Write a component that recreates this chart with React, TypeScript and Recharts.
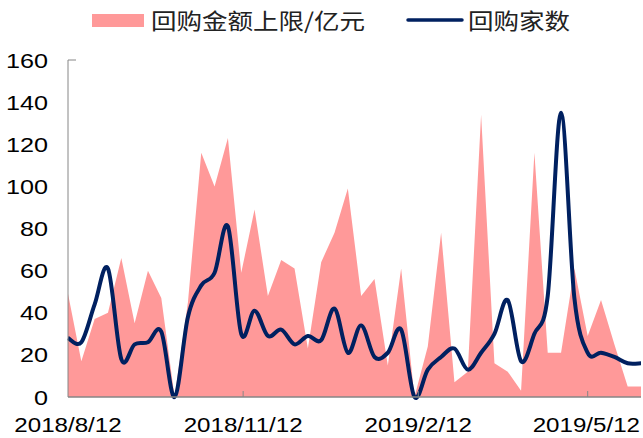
import { ComposedChart, Area, Line, XAxis, YAxis, Legend } from "recharts";

const dates = [
  "2018/8/12", "2018/8/19", "2018/8/26", "2018/9/2", "2018/9/9", "2018/9/16",
  "2018/9/23", "2018/9/30", "2018/10/7", "2018/10/14", "2018/10/21", "2018/10/28",
  "2018/11/4", "2018/11/11", "2018/11/18", "2018/11/25", "2018/12/2", "2018/12/9",
  "2018/12/16", "2018/12/23", "2018/12/30", "2019/1/6", "2019/1/13", "2019/1/20",
  "2019/1/27", "2019/2/3", "2019/2/10", "2019/2/17", "2019/2/24", "2019/3/3",
  "2019/3/10", "2019/3/17", "2019/3/24", "2019/3/31", "2019/4/7", "2019/4/14",
  "2019/4/21", "2019/4/28", "2019/5/5", "2019/5/12", "2019/5/19", "2019/5/26",
  "2019/6/2", "2019/6/9",
];

// 回购金额上限/亿元
const amountCap = [
  49, 17, 37, 40, 66, 35, 60, 47, 0, 45, 116, 100, 123, 59, 89, 48, 65, 61, 23, 64,
  78, 99, 48, 56, 15, 61, 0, 24, 78, 7, 12, 134, 16, 12, 3, 116, 21, 21, 61, 29,
  46, 25, 5, 5,
];

// 回购家数
const companyCount = [
  28, 26, 44, 61, 18, 25, 26, 31, 0, 38, 53, 59, 81, 30, 41, 29, 32, 25, 29, 27,
  42, 21, 34, 19, 21, 32, 0, 13, 19, 23, 13, 21, 30, 46, 17, 30, 48, 135, 47, 21,
  21, 19, 16, 16,
];

const xTickLabels = ["2018/8/12", "2018/11/12", "2019/2/12", "2019/5/12"];
const yTicks = [0, 20, 40, 60, 80, 100, 120, 140, 160];

const PINK = "#FF9999";
const NAVY = "#002060";
const AXIS = "#868686";
const FONT = "'Liberation Sans', Arial, 'Noto Sans CJK SC', sans-serif";
const CJK_FONT = "'Noto Sans CJK SC', 'Liberation Sans', sans-serif";

const toDay = (s: string) => {
  const [y, m, d] = s.split("/").map(Number);
  return Date.UTC(y, m - 1, d) / 86400000;
};

const data = dates.map((d, i) => ({
  day: toDay(d),
  amount: amountCap[i],
  count: companyCount[i],
}));

const xTicks = xTickLabels.map(toDay);

// Excel-like smoothed line (Catmull-Rom through the points)
function excelSmooth(context: any) {
  let pts: number[][] = [];
  return {
    areaStart() {},
    areaEnd() {},
    lineStart() {
      pts = [];
    },
    point(x: number, y: number) {
      pts.push([+x, +y]);
    },
    lineEnd() {
      const n = pts.length;
      if (!n) return;
      context.moveTo(pts[0][0], pts[0][1]);
      for (let i = 0; i < n - 1; i++) {
        const p0 = pts[Math.max(i - 1, 0)];
        const p1 = pts[i];
        const p2 = pts[i + 1];
        const p3 = pts[Math.min(i + 2, n - 1)];
        context.bezierCurveTo(
          p1[0] + (p2[0] - p0[0]) / 6,
          p1[1] + (p2[1] - p0[1]) / 6,
          p2[0] - (p3[0] - p1[0]) / 6,
          p2[1] - (p3[1] - p1[1]) / 6,
          p2[0],
          p2[1]
        );
      }
    },
  };
}

function XTick({ x, y, index }: any) {
  const last = index === xTickLabels.length - 1;
  const tx = last ? 640 : x;
  return (
    <g>
      {index > 0 && <line x1={x} x2={x} y1={y} y2={y - 6} stroke={AXIS} strokeWidth={1} />}
      <text
        transform={`translate(${tx},${y + 35}) scale(1.15,1)`}
        textAnchor={last ? "end" : "middle"}
        fontSize={21}
        fontFamily={FONT}
        fill="#000"
      >
        {xTickLabels[index]}
      </text>
    </g>
  );
}

function YTick({ x, y, payload }: any) {
  return (
    <g>
      {payload.value === 160 && <line x1={x} x2={x + 8} y1={y} y2={y} stroke={AXIS} strokeWidth={1} />}
      <text
        transform={`translate(${x - 20},${y + 7.5}) scale(1.2,1)`}
        textAnchor="end"
        fontSize={21}
        fontFamily={FONT}
        fill="#000"
      >
        {payload.value}
      </text>
    </g>
  );
}

function LegendContent() {
  return (
    <svg width={643} height={40} style={{ display: "block" }}>
      <rect x={92} y={14} width={52} height={13} fill={PINK} />
      <text
        transform="translate(151,29) scale(1.16,1)"
        fontSize={22}
        fontFamily={CJK_FONT}
        fill="#222"
      >
        回购金额上限/亿元
      </text>
      <line x1={408} x2={462} y1={20} y2={20} stroke={NAVY} strokeWidth={3.5} strokeLinecap="round" />
      <text
        transform="translate(468,29) scale(1.16,1)"
        fontSize={22}
        fontFamily={CJK_FONT}
        fill="#222"
      >
        回购家数
      </text>
    </svg>
  );
}

export default function App() {
  return (
    <div style={{ position: "absolute", left: 0, top: 0, background: "#fff" }}>
      <ComposedChart
        width={643}
        height={438}
        data={data}
        margin={{ top: 20, right: 2, bottom: 0, left: 0 }}
      >
        <Legend
          verticalAlign="top"
          align="left"
          content={<LegendContent />}
          wrapperStyle={{ left: 0, top: 0, width: 643, height: 40 }}
        />
        <XAxis
          dataKey="day"
          type="number"
          domain={["dataMin", "dataMax"]}
          ticks={xTicks}
          height={41}
          tickSize={0}
          tickMargin={0}
          tickLine={false}
          axisLine={{ stroke: AXIS, strokeWidth: 1.5 }}
          tick={<XTick />}
          interval={0}
        />
        <YAxis
          domain={[0, 160]}
          ticks={yTicks}
          width={68}
          tickSize={0}
          tickMargin={0}
          tickLine={false}
          axisLine={{ stroke: AXIS, strokeWidth: 1 }}
          tick={<YTick />}
          interval={0}
        />
        <Area
          type="linear"
          dataKey="amount"
          name="回购金额上限/亿元"
          fill={PINK}
          fillOpacity={1}
          stroke="none"
          isAnimationActive={false}
        />
        <Line
          type={excelSmooth as any}
          dataKey="count"
          name="回购家数"
          stroke={NAVY}
          strokeWidth={4}
          dot={false}
          activeDot={false}
          isAnimationActive={false}
        />
      </ComposedChart>
    </div>
  );
}
